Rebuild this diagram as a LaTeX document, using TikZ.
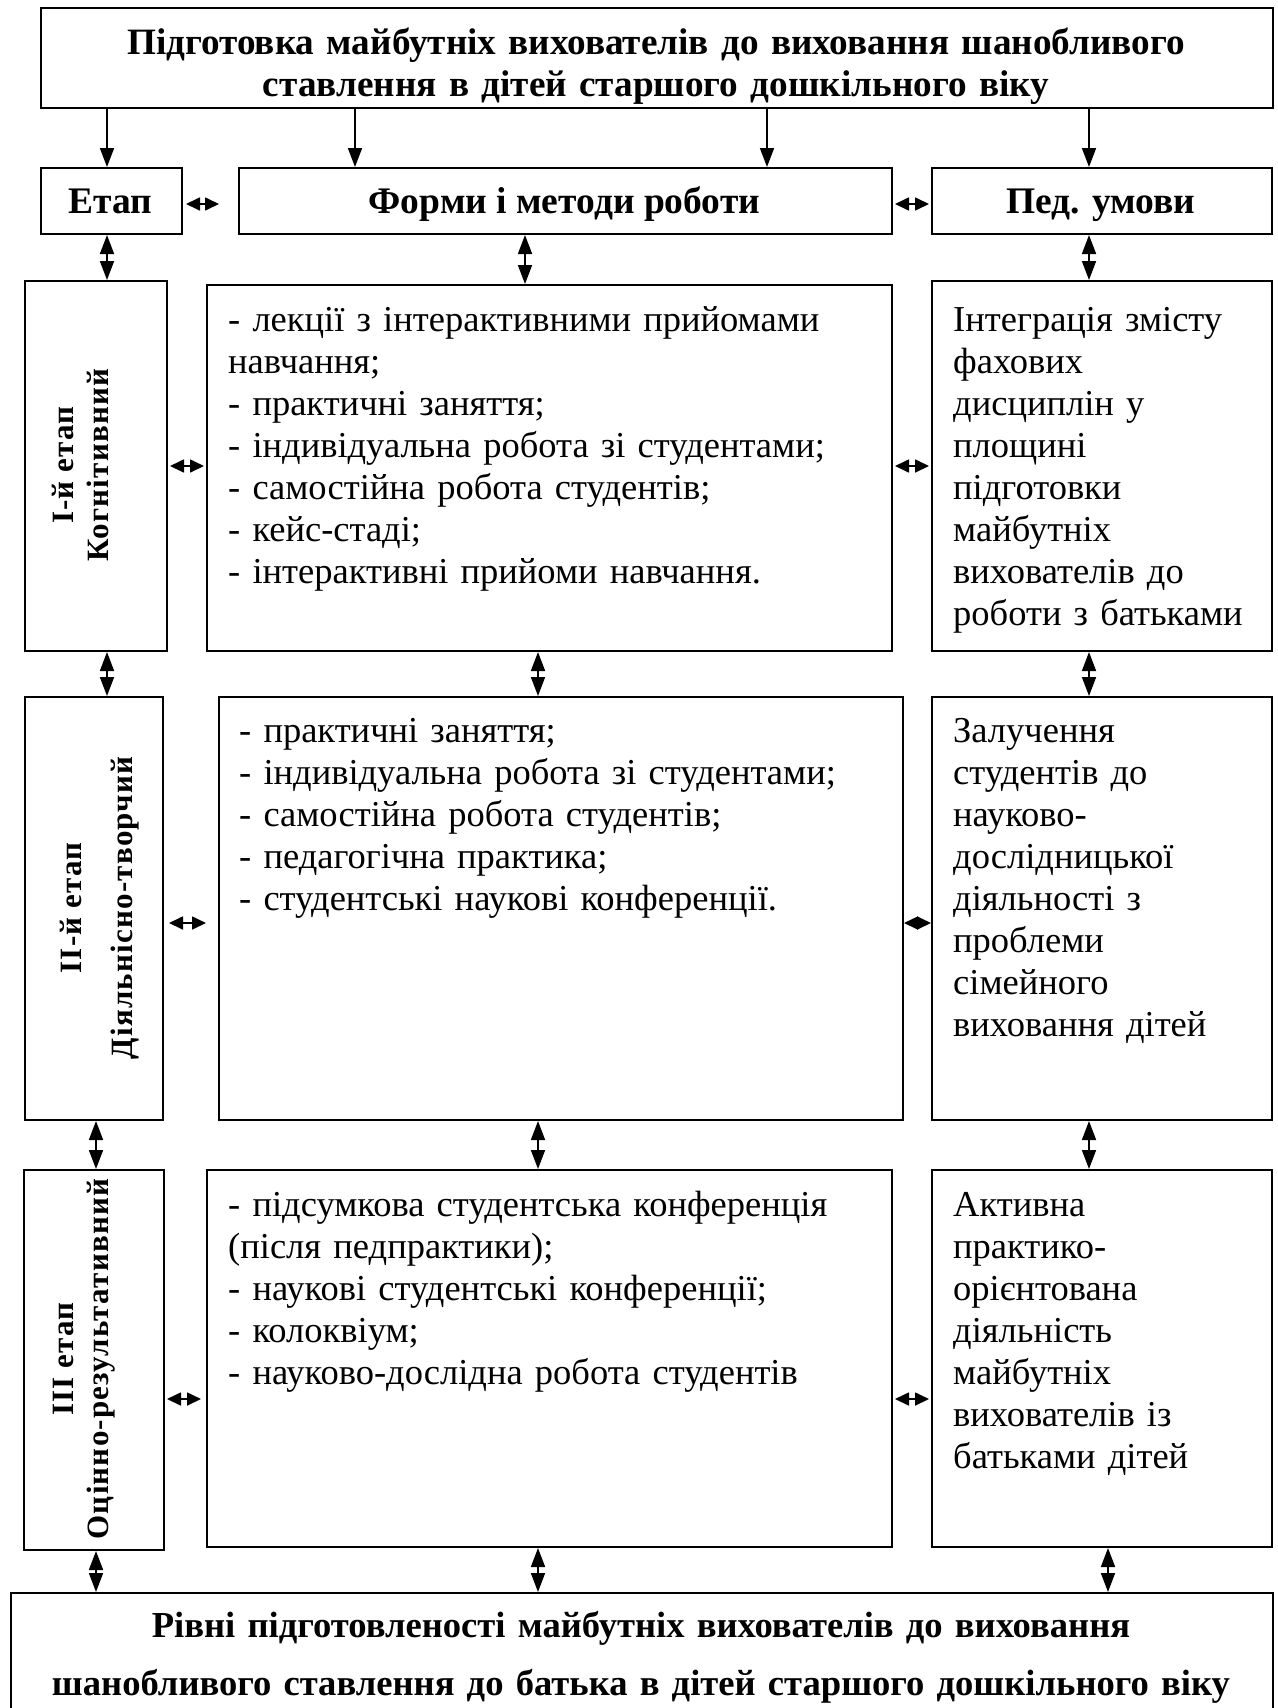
\documentclass[tikz,border=0pt]{standalone}
\usepackage{fontspec}
\setmainfont{Liberation Serif}
\newfontfamily\stagefont[LetterSpace=4]{Liberation Serif}
\usetikzlibrary{arrows.meta}
\begin{document}
\begin{tikzpicture}[x=1pt,y=-1pt,
  box/.style={draw, line width=2pt, rectangle, inner sep=0pt, anchor=north west},
  bodytext/.style={font=\fontsize{36.5}{42}\selectfont, inner sep=0pt, anchor=base west, align=left, text width=#1},
  headtext/.style={font=\bfseries\fontsize{37.5}{42}\selectfont, inner sep=0pt, anchor=base},
  stagetext/.style={font=\stagefont\bfseries\fontsize{31}{34}\selectfont, inner sep=0pt, anchor=base, rotate=90},
  tip/.tip={Triangle[length=19pt,width=14pt]},
  htip/.tip={Triangle[length=14pt,width=13pt]},
  arr/.style={line width=1.7pt, -tip},
  dbl/.style={line width=1.7pt, tip-tip},
  hdbl/.style={line width=1.7pt, htip-htip}]
\useasboundingbox (0,0) rectangle (1277,1708);
\clip (0,0) rectangle (1277,1708);

% boxes
\node[box, minimum width=1232pt, minimum height=100pt] (top) at (40,7) {};
\node[box, minimum width=141pt, minimum height=66pt] (etap) at (40,167) {};
\node[box, minimum width=653pt, minimum height=66pt] (forms) at (238,167) {};
\node[box, minimum width=340pt, minimum height=66pt] (ped) at (931,167) {};
\node[box, minimum width=142pt, minimum height=370pt] (s1) at (24,280) {};
\node[box, minimum width=685pt, minimum height=366pt] (f1) at (206,284) {};
\node[box, minimum width=340pt, minimum height=370pt] (p1) at (931,280) {};
\node[box, minimum width=138pt, minimum height=423pt] (s2) at (24,696) {};
\node[box, minimum width=684pt, minimum height=423pt] (f2) at (218,696) {};
\node[box, minimum width=340pt, minimum height=423pt] (p2) at (931,696) {};
\node[box, minimum width=140pt, minimum height=380pt] (s3) at (23,1169) {};
\node[box, minimum width=685pt, minimum height=377pt] (f3) at (206,1169) {};
\node[box, minimum width=340pt, minimum height=377pt] (p3) at (931,1169) {};
\node[box, minimum width=1262pt, minimum height=220pt] (bot) at (10,1592) {};

% texts
\node[headtext, font=\bfseries\fontsize{37.2}{42}\selectfont, align=center, text width=1220pt] (toptext) at (656,54)
  {Підготовка майбутніх вихователів до виховання шанобливого\\ставлення в дітей старшого дошкільного віку};
\node[headtext] (etaptext) at (110.5,213) {Етап};
\node[headtext] (formstext) at (564.5,213) {Форми і методи роботи};
\node[headtext] (pedtext) at (1101,213) {Пед. умови};

\node[stagetext] (s1a) at (73,465) {І-й етап};
\node[stagetext] (s1b) at (108,465) {Когнітивний};
\node[stagetext] (s2a) at (81,908) {ІІ-й етап};
\node[stagetext] (s2b) at (132,908) {Діяльнісно-творчий};
\node[stagetext] (s3a) at (73,1359) {ІІІ етап};
\node[stagetext] (s3b) at (108,1359) {Оцінно-результативний};

\node[bodytext=660pt] (f1t) at (228,331) {- лекції з інтерактивними прийомами\\навчання;\\- практичні заняття;\\- індивідуальна робота зі студентами;\\- самостійна робота студентів;\\- кейс-стаді;\\- інтерактивні прийоми навчання.};
\node[bodytext=315pt] (p1t) at (953,331) {Інтеграція змісту\\фахових\\дисциплін у\\площині\\підготовки\\майбутніх\\вихователів до\\роботи з батьками};
\node[bodytext=660pt] (f2t) at (239,742) {- практичні заняття;\\- індивідуальна робота зі студентами;\\- самостійна робота студентів;\\- педагогічна практика;\\- студентські наукові конференції.};
\node[bodytext=315pt] (p2t) at (953,742) {Залучення\\студентів до\\науково-\\дослідницької\\діяльності з\\проблеми\\сімейного\\виховання дітей};
\node[bodytext=660pt] (f3t) at (228,1216) {- підсумкова студентська конференція\\(після педпрактики);\\- наукові студентські конференції;\\- колоквіум;\\- науково-дослідна робота студентів};
\node[bodytext=315pt] (p3t) at (953,1216) {Активна\\практико-\\орієнтована\\діяльність\\майбутніх\\вихователів із\\батьками дітей};

\node[font=\bfseries\fontsize{36.6}{58}\selectfont, inner sep=0pt, anchor=base, align=center, text width=1250pt] (bottext) at (641,1637)
  {Рівні підготовленості майбутніх вихователів до виховання\\шанобливого ставлення до батька в дітей старшого дошкільного віку};

% x / y helper coordinates
\coordinate (xa) at (107,0);
\coordinate (xb) at (355,0);
\coordinate (xc) at (767,0);
\coordinate (xd) at (1089,0);
\coordinate (xe) at (525,0);
\coordinate (xf) at (538,0);
\coordinate (xg) at (96,0);
\coordinate (xh) at (1108,0);
\coordinate (y0) at (0,204);
\coordinate (y1) at (0,466);
\coordinate (y2) at (0,923);
\coordinate (y3) at (0,1399);

% top arrows
\draw[arr] (top.south -| xa) -- (etap.north -| xa);
\draw[arr] (top.south -| xb) -- (forms.north -| xb);
\draw[arr] (top.south -| xc) -- (forms.north -| xc);
\draw[arr] (top.south -| xd) -- (ped.north -| xd);

% header horizontal
\draw[hdbl, shorten <=3pt, shorten >=19pt] (etap.east |- y0) -- (forms.west |- y0);
\draw[hdbl, shorten <=2pt, shorten >=2pt] (forms.east |- y0) -- (ped.west |- y0);

% header -> row 1
\draw[dbl] (etap.south -| xa) -- (s1.north -| xa);
\draw[dbl] (forms.south -| xe) -- (f1.north -| xe);
\draw[dbl] (ped.south -| xd) -- (p1.north -| xd);

% row 1 horizontal
\draw[hdbl, shorten <=2pt, shorten >=2pt] (s1.east |- y1) -- (f1.west |- y1);
\draw[hdbl, shorten <=2pt, shorten >=2pt] (f1.east |- y1) -- (p1.west |- y1);

% row 1 -> row 2
\draw[dbl] (s1.south -| xa) -- (s2.north -| xa);
\draw[dbl] (f1.south -| xf) -- (f2.north -| xf);
\draw[dbl] (p1.south -| xd) -- (p2.north -| xd);

% row 2 horizontal
\draw[hdbl, shorten <=5pt, shorten >=12pt] (s2.east |- y2) -- (f2.west |- y2);
\draw[hdbl] (f2.east |- y2) -- (p2.west |- y2);

% row 2 -> row 3
\draw[dbl] (s2.south -| xg) -- (s3.north -| xg);
\draw[dbl] (f2.south -| xf) -- (f3.north -| xf);
\draw[dbl] (p2.south -| xd) -- (p3.north -| xd);

% row 3 horizontal
\draw[hdbl, shorten <=2pt, shorten >=5pt] (s3.east |- y3) -- (f3.west |- y3);
\draw[hdbl, shorten <=2pt, shorten >=2pt] (f3.east |- y3) -- (p3.west |- y3);

% row 3 -> bottom
\draw[dbl] (s3.south -| xg) -- (bot.north -| xg);
\draw[dbl] (f3.south -| xf) -- (bot.north -| xf);
\draw[dbl] (p3.south -| xh) -- (bot.north -| xh);
\end{tikzpicture}
\end{document}
